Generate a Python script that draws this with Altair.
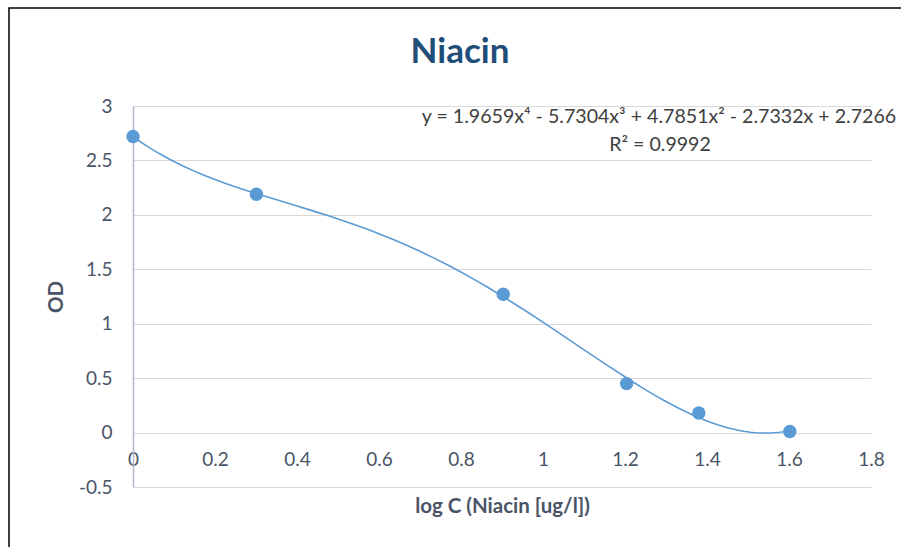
import altair as alt
import pandas as pd

# Standard curve: log concentration vs optical density
log_conc = [0.0, 0.301, 0.903, 1.204, 1.380, 1.602]
od = [2.72, 2.19, 1.27, 0.45, 0.18, 0.01]

title_text = "Niacin"
equation = "y = 1.9659x\u2074 - 5.7304x\u00b3 + 4.7851x\u00b2 - 2.7332x + 2.7266"
r_squared = "R\u00b2 = 0.9992"

df = pd.DataFrame({"x": log_conc, "y": od})

FONT = "Lato"
LABEL_COLOR = "#4a5466"
BLUE = "#5b9bd5"

W, H = 738, 381

x_scale = alt.Scale(domain=[0, 1.8], nice=False, zero=False)
y_scale = alt.Scale(domain=[-0.5, 3], nice=False, zero=False)

base = alt.Chart(df)

points = base.mark_circle(size=180, color=BLUE, opacity=1).encode(
    x=alt.X(
        "x:Q",
        scale=x_scale,
        axis=alt.Axis(
            title="log C (Niacin [ug/l])",
            values=[0, 0.2, 0.4, 0.6, 0.8, 1, 1.2, 1.4, 1.6, 1.8],
            labelExpr="toString(datum.value)",
            labelFlush=False,
            grid=False,
            domain=False,
            ticks=False,
            offset=-54,
            labelPadding=17,
            titlePadding=27,
        ),
    ),
    y=alt.Y(
        "y:Q",
        scale=y_scale,
        axis=alt.Axis(
            title="OD",
            values=[-0.5, 0, 0.5, 1, 1.5, 2, 2.5, 3],
            labelExpr="toString(datum.value)",
            grid=True,
            ticks=False,
            domain=True,
            labelPadding=21,
            titlePadding=12,
        ),
    ),
)

# Fourth-order polynomial trendline fitted by Vega's regression transform
trend = base.transform_regression(
    "x", "y", method="poly", order=4, extent=[0, 1.602]
).mark_line(color=BLUE, strokeWidth=1.6).encode(
    x=alt.X("x:Q", scale=x_scale),
    y=alt.Y("y:Q", scale=y_scale),
)


def label(text, x, y, size, color, weight="normal"):
    return alt.Chart(pd.DataFrame({"t": [text]})).mark_text(
        font=FONT, fontSize=size, fontWeight=weight, color=color,
        align="center", baseline="middle",
    ).encode(text="t:N", x=alt.value(x), y=alt.value(y))


heading = label(title_text, 327, -54, 35, "#1f4e79", "bold")
eq_text = label(equation, 526, 11, 19.6, "#404040")
r2_text = label(r_squared, 527, 39, 19.6, "#404040")

frame = alt.Chart(pd.DataFrame({"k": [0]})).mark_rect(
    fill=None, stroke="black", strokeWidth=1.5
).encode(
    x=alt.value(-124), x2=alt.value(W + 60),
    y=alt.value(-98), y2=alt.value(H + 80),
)

chart = alt.layer(frame, trend, points, heading, eq_text, r2_text).properties(
    width=W,
    height=H,
    padding={"left": 133, "top": 106, "right": 30, "bottom": 60},
    autosize=alt.AutoSizeParams(type="none"),
    background="white",
).configure_view(
    stroke=None
).configure_axis(
    labelFont=FONT,
    labelFontSize=19,
    labelColor=LABEL_COLOR,
    titleFont=FONT,
    titleFontSize=20.5,
    titleFontWeight="bold",
    titleColor=LABEL_COLOR,
    gridColor="#d9d9d9",
    gridWidth=1.2,
    domainColor="#b0b9cc",
    domainWidth=1.5,
)

chart.save("out.html", embed_options={"renderer": "svg", "actions": False})
